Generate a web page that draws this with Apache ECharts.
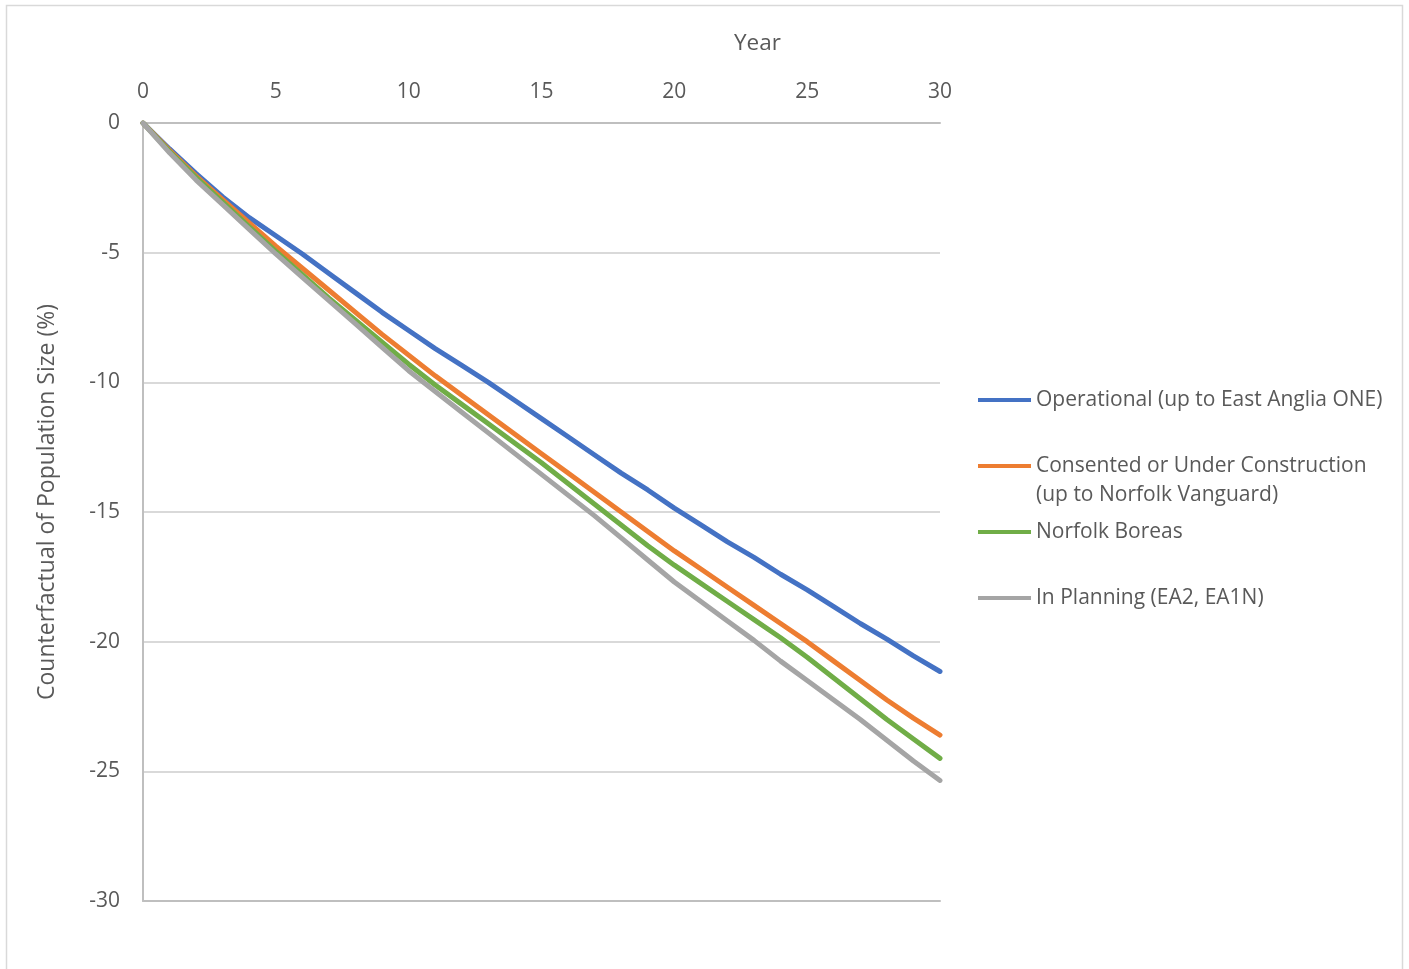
<!DOCTYPE html>
<html>
<head>
<meta charset="utf-8">
<title>Counterfactual of Population Size</title>
<script src="https://cdn.jsdelivr.net/npm/echarts@6/dist/echarts.min.js"></script>
<style>
  html, body { margin: 0; padding: 0; background: #ffffff; }
  #chart { width: 1409px; height: 969px; }
</style>
</head>
<body>
<div id="chart"></div>
<script>
// Years 0..30
const years = Array.from({ length: 31 }, (_, i) => i);

const seriesNames = [
  'Operational (up to East Anglia ONE)',
  'Consented or Under Construction (up to Norfolk Vanguard)',
  'Norfolk Boreas',
  'In Planning (EA2, EA1N)'
];

// Counterfactual of population size (%) by year
const operational = [0, -1.0, -1.95, -2.85, -3.65, -4.35, -5.05, -5.8, -6.55, -7.3, -8.0,
  -8.7, -9.35, -10.0, -10.7, -11.4, -12.1, -12.8, -13.5, -14.15, -14.85,
  -15.5, -16.15, -16.75, -17.4, -18.0, -18.65, -19.3, -19.9, -20.55, -21.15];

const consented = [0, -1.05, -2.05, -2.95, -3.85, -4.75, -5.6, -6.45, -7.3, -8.15, -8.95,
  -9.75, -10.5, -11.25, -12.0, -12.75, -13.5, -14.25, -15.0, -15.75, -16.5,
  -17.2, -17.9, -18.6, -19.3, -20.0, -20.75, -21.5, -22.25, -22.95, -23.6];

const norfolkBoreas = [0, -1.1, -2.1, -3.05, -4.0, -4.95, -5.85, -6.75, -7.6, -8.45, -9.3,
  -10.1, -10.85, -11.6, -12.35, -13.1, -13.9, -14.7, -15.5, -16.3, -17.05,
  -17.75, -18.45, -19.15, -19.85, -20.6, -21.4, -22.2, -23.0, -23.75, -24.5];

const inPlanning = [0, -1.15, -2.2, -3.15, -4.1, -5.05, -5.95, -6.85, -7.75, -8.65, -9.55,
  -10.35, -11.15, -11.95, -12.75, -13.55, -14.35, -15.15, -16.0, -16.85, -17.7,
  -18.45, -19.2, -19.95, -20.75, -21.5, -22.25, -23.0, -23.8, -24.6, -25.35];

const seriesValues = [operational, consented, norfolkBoreas, inPlanning];
const colors = ['#4472C4', '#ED7D31', '#70AD47', '#A5A5A5'];

// Legend label text (the second entry wraps onto two lines)
const legendLabels = {
  'Operational (up to East Anglia ONE)': 'Operational (up to East Anglia ONE)',
  'Consented or Under Construction (up to Norfolk Vanguard)': '\nConsented or Under Construction\n(up to Norfolk Vanguard)',
  'Norfolk Boreas': 'Norfolk Boreas',
  'In Planning (EA2, EA1N)': 'In Planning (EA2, EA1N)'
};

const FONT = '"Open Sans", "Noto Sans", sans-serif';
const TEXT = '#595959';
const LINE_H = 29;
const legendTops = [385.5, 422.5, 517.5, 583.5];

const chart = echarts.init(document.getElementById('chart'), null, { renderer: 'canvas' });

const option = {
  backgroundColor: '#ffffff',
  animation: false,
  color: colors,
  graphic: [{
    type: 'rect',
    shape: { x: 6.5, y: 5.5, width: 1396, height: 980 },
    style: { fill: 'none', stroke: '#d9d9d9', lineWidth: 1.5 },
    silent: true
  }],
  grid: { left: 143, top: 123, width: 797, height: 778, containLabel: false },
  legend: seriesNames.map((name, i) => ({
    data: [name],
    orient: 'vertical',
    left: 978,
    top: legendTops[i],
    padding: 0,
    itemWidth: 53,
    itemHeight: 4,
    icon: 'rect',
    selectedMode: false,
    formatter: n => legendLabels[n],
    textStyle: { fontFamily: FONT, fontSize: 21, color: TEXT, lineHeight: LINE_H }
  })),
  xAxis: [{
    type: 'value',
    position: 'top',
    min: 0,
    max: 30,
    interval: 5,
    name: 'Year',
    nameLocation: 'middle',
    nameGap: 68,
    nameTextStyle: { fontFamily: FONT, fontSize: 22.5, color: TEXT, padding: [0, 0, 0, 432] },
    axisLine: { show: true, onZero: false, lineStyle: { color: '#bfbfbf', width: 2 } },
    axisTick: { show: false },
    axisLabel: { fontFamily: FONT, fontSize: 21, color: TEXT, margin: 20 },
    splitLine: { show: false }
  }, {
    type: 'value',
    position: 'bottom',
    min: 0,
    max: 30,
    axisLine: { show: true, onZero: false, lineStyle: { color: '#bfbfbf', width: 2 } },
    axisTick: { show: false },
    axisLabel: { show: false },
    splitLine: { show: false }
  }],
  yAxis: {
    type: 'value',
    min: -30,
    max: 0,
    interval: 5,
    name: 'Counterfactual of Population Size (%)',
    nameLocation: 'middle',
    nameGap: 84,
    nameRotate: 90,
    nameTextStyle: { fontFamily: FONT, fontSize: 23, color: TEXT, padding: [0, 0, 0, 20] },
    axisLine: { show: true, lineStyle: { color: '#bfbfbf', width: 2 } },
    axisTick: { show: false },
    axisLabel: { fontFamily: FONT, fontSize: 21, color: TEXT, margin: 23 },
    splitLine: { show: true, lineStyle: { color: '#d9d9d9', width: 2 } }
  },
  series: seriesNames.map((name, i) => ({
    name: name,
    type: 'line',
    xAxisIndex: 0,
    data: years.map((y, j) => [y, seriesValues[i][j]]),
    showSymbol: false,
    symbol: 'none',
    smooth: false,
    lineStyle: { width: 5, color: colors[i], cap: 'round', join: 'round' },
    itemStyle: { color: colors[i] }
  }))
};

chart.setOption(option);
</script>
</body>
</html>
